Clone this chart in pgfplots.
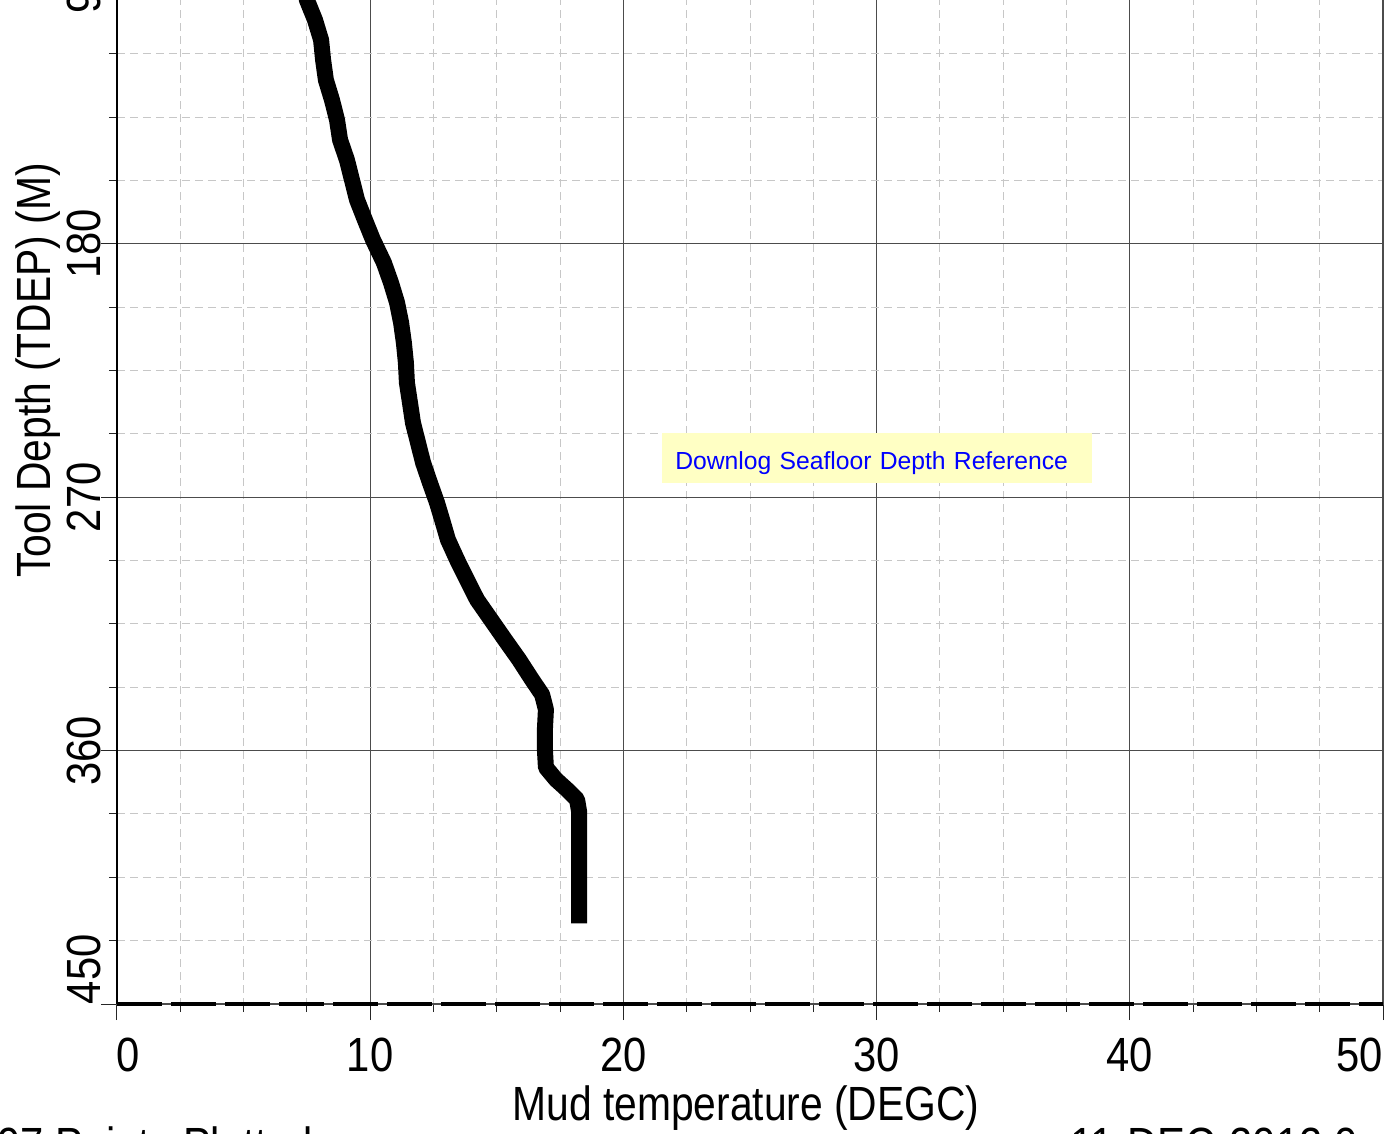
\documentclass[border=0pt]{standalone}
\usepackage{pgfplots}
\pgfplotsset{compat=1.18}
\usepackage{fontspec}
\setmainfont{Liberation Sans}
\newfontfamily\narrowfont[FakeStretch=0.87]{Liberation Sans}
\newfontfamily\labelfont[FakeStretch=0.85]{Liberation Sans}
\definecolor{majgrid}{gray}{0.3}
\definecolor{mingrid}{gray}{0.78}
\definecolor{notefill}{RGB}{255,255,196}
\begin{document}
\begin{tikzpicture}
\useasboundingbox (-58.5pt,-65pt) rectangle (635pt,502pt);
\clip (-58.5pt,-65pt) rectangle (635pt,502pt);
\begin{axis}[
  scale only axis, width=633pt, height=633.5pt,
  at={(0,0)}, anchor=south west,
  xmin=0, xmax=50, ymin=0, ymax=450, y dir=reverse,
  xtick={0,10,...,50}, ytick={0,90,...,450},
  xticklabels={\makebox[0pt][l]{0},10,20,30,40,\makebox[0pt][r]{50}},
  yticklabels={0,90,180,270,360,\makebox[0pt][l]{450}},
  minor x tick num=3, minor y tick num=3,
  ytick pos=left,
  tick align=outside, major tick length=8pt, minor tick length=4pt,
  tick style={black!85, line width=0.5pt},
  grid=both,
  major grid style={majgrid, line width=0.6pt},
  minor grid style={mingrid, line width=0.5pt, dash pattern=on 4pt off 2.5pt},
  axis line style={majgrid, line width=0.6pt},
  ticklabel style={font=\fontsize{24}{28}\selectfont\narrowfont, inner sep=0pt},
  xticklabel style={anchor=north, yshift=-9pt},
  yticklabel style={rotate=90, anchor=south},
  xlabel={Mud temperature (DEGC)},
  ylabel={Tool Depth (TDEP) (M)},
  label style={font=\fontsize{24}{28}\selectfont\labelfont, inner sep=0pt},
  xlabel style={at={(axis description cs:0.4968,0)}, anchor=base, yshift=-58pt},
  ylabel style={at={(axis description cs:-0.0529,0.5)}, anchor=base},
  clip=false,
]
\addplot[black, line width=8pt, line join=round] coordinates {
(7.30,85.0) (7.43,90.0) (7.50,93.4) (7.82,100.5) (8.06,107.6) (8.14,114.7)
(8.25,121.8) (8.49,128.9) (8.69,136.0) (8.81,143.1) (9.08,150.2) (9.28,157.3)
(9.48,164.4) (9.79,171.5) (10.11,178.6) (10.54,186.7) (10.82,193.8) (11.06,200.9)
(11.22,208.0) (11.33,215.1) (11.41,222.2) (11.45,229.3) (11.57,236.4) (11.69,243.6)
(11.89,250.7) (12.09,257.8) (12.36,264.9) (12.64,272.0) (12.84,278.0) (13.07,285.1)
(13.43,292.2) (13.82,299.3) (14.22,306.4) (14.77,313.5) (15.32,320.6) (15.88,327.7)
(16.39,334.8) (16.79,340.1) (16.94,345.4) (16.90,352.5) (16.90,359.6) (16.94,366.0)
(17.34,370.3) (17.77,373.8) (18.17,377.4) (18.25,381.6) (18.25,395.1) (18.25,409.3)
(18.25,421.4)
};
\addplot[black, line width=2pt, dash pattern=on 22.5pt off 4.5pt, forget plot] coordinates {(0,450) (50,450)};
\draw[black, line width=1.3pt] (rel axis cs:0,0) -- (rel axis cs:0,1);
\node[fill=notefill, text=blue, font=\fontsize{12.35}{15}\selectfont, anchor=west,
      inner ysep=0pt, text height=18.5pt, text depth=6.5pt,
      text width=202pt, inner xsep=6.5pt, align=left]
      at (axis cs:21.52,256) {Downlog Seafloor Depth Reference};
\end{axis}
\node[anchor=base west, inner sep=0pt, font=\fontsize{24}{28}\selectfont\narrowfont] at (-60pt,-79pt) {97 Points Plotted};
\node[anchor=base west, inner sep=0pt, font=\fontsize{24}{28}\selectfont\narrowfont] at (476.5pt,-79pt) {11-DEC-2012 0};
\end{tikzpicture}
\end{document}
